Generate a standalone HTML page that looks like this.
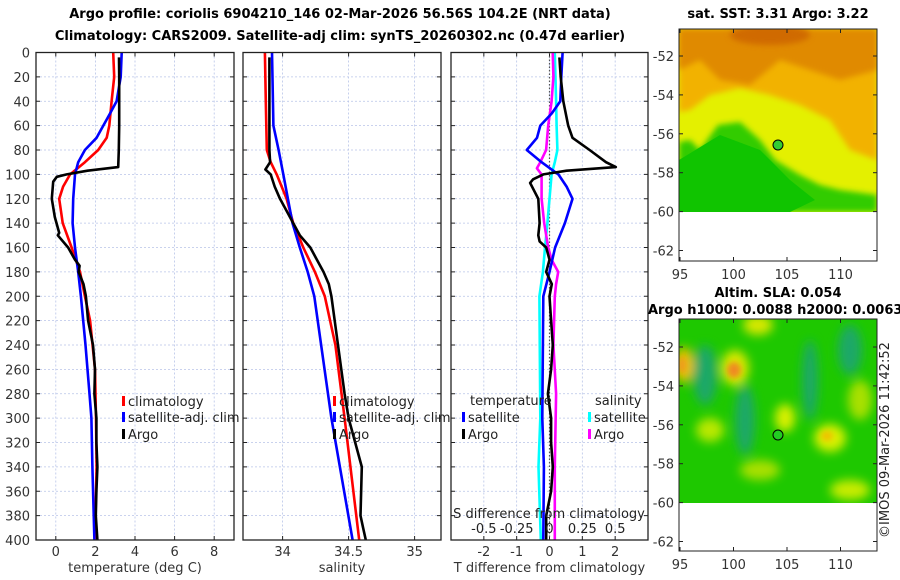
<!DOCTYPE html>
<html><head><meta charset="utf-8"><style>
html,body{margin:0;padding:0;background:#fff;}
svg{display:block;font-family:"DejaVu Sans","Liberation Sans",sans-serif;}
</style></head><body>
<svg id="fig" width="900" height="580" viewBox="0 0 900 580">
<defs>
<clipPath id="c1"><rect x="679" y="29" width="198" height="183"/></clipPath>
<clipPath id="c2"><rect x="679" y="319" width="198" height="184"/></clipPath>
<filter id="bl" x="-50%" y="-50%" width="200%" height="200%"><feGaussianBlur stdDeviation="5"/></filter>
<filter id="bl2" x="-50%" y="-50%" width="200%" height="200%"><feGaussianBlur stdDeviation="3"/></filter>
</defs>
<text x="340" y="18" text-anchor="middle" font-size="13" font-weight="bold">Argo profile: coriolis 6904210_146 02-Mar-2026 56.56S 104.2E (NRT data)</text>
<text x="340" y="40" text-anchor="middle" font-size="13" font-weight="bold">Climatology: CARS2009. Satellite-adj clim: synTS_20260302.nc (0.47d earlier)</text>
<g id="panels"></g>
<!-- map 1 -->
<g>
<text x="778" y="18" text-anchor="middle" font-size="13" font-weight="bold">sat. SST: 3.31 Argo: 3.22</text>
<g clip-path="url(#c1)">
<rect x="679" y="29" width="198" height="183" fill="#e4f000"/>
<path d="M679,29 H877 V160 L850,150 L830,120 L800,105 L770,95 L740,88 L710,95 L690,110 L679,112 Z" fill="#f2b200" filter="url(#bl2)"/>
<path d="M679,29 H877 V70 L840,80 L810,70 L780,60 L750,85 L720,80 L700,60 L679,70 Z" fill="#e08a00" filter="url(#bl2)"/>
<ellipse cx="770" cy="35" rx="40" ry="10" fill="#d06a00" filter="url(#bl2)"/>
<path d="M679,142 L690,140 L700,150 L718,125 L740,122 L760,140 L775,160 L800,175 L820,185 L840,190 L877,195 V212 H679 Z" fill="#33cc00" filter="url(#bl2)"/>
<path d="M679,160 L720,135 L760,150 L790,180 L815,200 L790,212 H679 Z" fill="#10c400"/>
</g>
<rect x="679" y="29" width="198" height="232" fill="none" stroke="#222" stroke-width="1"/>
<circle cx="778" cy="145" r="5" fill="#3c3" stroke="#000" stroke-width="1"/>
<g id="m1ticks"></g>
</g>
<!-- map 2 -->
<g>
<text x="778" y="297" text-anchor="middle" font-size="13" font-weight="bold">Altim. SLA: 0.054</text>
<text x="648" y="314" font-size="13" font-weight="bold">Argo h1000: 0.0088 h2000: 0.0063</text>
<g clip-path="url(#c2)">
<rect x="679" y="319" width="198" height="184" fill="#1ec800"/>
<g filter="url(#bl)">
<ellipse cx="705" cy="375" rx="12" ry="30" fill="#1aa868"/>
<ellipse cx="745" cy="420" rx="10" ry="35" fill="#1aa868"/>
<ellipse cx="810" cy="380" rx="8" ry="40" fill="#1aa868"/>
<ellipse cx="850" cy="350" rx="12" ry="25" fill="#1aa868"/>
<ellipse cx="735" cy="368" rx="14" ry="18" fill="#d8e800"/>
<ellipse cx="684" cy="365" rx="10" ry="18" fill="#e8c000"/>
<ellipse cx="758" cy="325" rx="15" ry="10" fill="#d8e800"/>
<ellipse cx="785" cy="418" rx="10" ry="14" fill="#d8f000"/>
<ellipse cx="830" cy="438" rx="16" ry="14" fill="#d8f000"/>
<ellipse cx="710" cy="430" rx="14" ry="12" fill="#b8e800"/>
<ellipse cx="760" cy="470" rx="20" ry="10" fill="#a8e000"/>
<ellipse cx="850" cy="490" rx="20" ry="10" fill="#c8ec00"/>
<ellipse cx="860" cy="400" rx="12" ry="20" fill="#a8e000"/>
</g>
<ellipse cx="734" cy="370" rx="7" ry="8" fill="#f08a20" filter="url(#bl2)"/>
<ellipse cx="682" cy="365" rx="4" ry="8" fill="#f09a20" filter="url(#bl2)"/>
<ellipse cx="827" cy="436" rx="6" ry="5" fill="#f0c000" filter="url(#bl2)"/>
</g>
<rect x="679" y="319" width="198" height="232" fill="none" stroke="#222" stroke-width="1"/>
<circle cx="778" cy="435" r="5" fill="#2c2" stroke="#000" stroke-width="1"/>
<g id="m2ticks"></g>
<text transform="translate(889,440) rotate(-90)" text-anchor="middle" font-size="13" fill="#222">©IMOS 09-Mar-2026 11:42:52</text>
</g>
</svg>
<script>
// ---- data ----
const tempArgoDepth=[4,20,40,60,80,94,97,100,102,106,120,135,148,150,160,170,175,180,190,200,220,240,260,280,300,320,340,360,380,400];
const tempArgo=[3.19,3.2,3.2,3.2,3.18,3.15,1.6,0.55,0.05,-0.13,-0.2,-0.05,0.17,0.1,0.62,0.97,1.2,1.15,1.4,1.52,1.63,1.88,1.98,1.95,2.05,2.05,2.1,2.05,2.02,2.1];
const tempClimDepth=[0,20,40,60,70,80,90,100,110,120,140,160,180,200,220,260,300,340,400];
const tempClim=[2.9,2.95,2.82,2.7,2.57,2.14,1.47,0.72,0.37,0.17,0.35,0.8,1.22,1.47,1.73,1.98,2.03,2.06,1.98];
const tempSatDepth=[0,20,40,50,60,70,80,90,100,120,140,160,180,200,240,280,300,340,400];
const tempSat=[3.33,3.28,3.07,2.74,2.4,2.06,1.47,1.13,0.97,0.88,0.85,0.97,1.13,1.27,1.5,1.7,1.8,1.85,1.95];
const salArgoDepth=[4,80,90,96,100,110,120,130,140,150,160,170,180,190,200,240,280,300,340,380,390,400];
const salArgo=[33.9,33.9,33.905,33.87,33.91,33.94,33.98,34.03,34.08,34.13,34.21,34.26,34.31,34.35,34.37,34.42,34.47,34.5,34.6,34.59,34.61,34.63];
const salClimDepth=[0,40,80,90,100,120,140,160,180,200,240,300,400];
const salClim=[33.866,33.873,33.88,33.91,33.955,34.03,34.08,34.157,34.245,34.32,34.4,34.47,34.58];
const salSatDepth=[0,60,70,80,100,120,140,160,180,200,300,400];
const salSat=[33.92,33.93,33.95,33.97,34.005,34.04,34.075,34.13,34.19,34.24,34.37,34.53];
const dTArgoDepth=[4,20,40,60,70,80,90,94,97,100,104,107,120,140,150,155,160,170,180,190,200,220,240,260,280,300,320,340,360,380,400];
const dTArgo=[0.3,0.34,0.42,0.57,0.7,1.22,1.72,2.02,0.52,-0.19,-0.5,-0.59,-0.34,-0.3,-0.34,-0.3,-0.1,0.0,-0.1,0.07,0.0,0.05,0.1,0.05,-0.05,0.05,0.05,0.1,0.05,-0.1,-0.1];
const dTSatDepth=[0,20,40,50,60,70,80,90,100,110,120,140,160,180,200,300,340,400];
const dTSat=[0.4,0.36,0.33,0.07,-0.28,-0.38,-0.69,-0.24,0.27,0.52,0.7,0.47,0.17,0.0,-0.19,-0.22,-0.17,-0.19];
const dSSatDepth=[0,40,60,80,90,100,120,140,160,180,200,300,340,400];
const dSSat=[0.04,0.05,0.054,0.06,0.04,0.016,0.0,-0.016,-0.034,-0.05,-0.077,-0.07,-0.084,-0.066];
const dSArgoDepth=[0,20,40,60,80,90,95,100,120,140,160,170,180,190,200,240,280,340,400];
const dSArgo=[0.024,0.03,0.016,-0.01,-0.026,-0.07,-0.096,-0.06,-0.06,-0.04,-0.01,0.016,0.066,0.05,0.04,0.03,0.05,0.04,0.04];
const depthTicks=[0,20,40,60,80,100,120,140,160,180,200,220,240,260,280,300,320,340,360,380,400];
const tTicks=[0,2,4,6,8];
const sTicks=[34,34.5,35];
const dTTicks=[-2,-1,0,1,2];
const dSTicks=[-0.5,-0.25,0,0.25,0.5];
const lonTicks=[95,100,105,110];
const latTicks=[-52,-54,-56,-58,-60,-62];

const NS='http://www.w3.org/2000/svg';
const Y0=52.5,Y1=540;
const yD=d=>Y0+(d/400)*(Y1-Y0);
function mk(tag,attrs,parent){const e=document.createElementNS(NS,tag);for(const k in attrs)e.setAttribute(k,attrs[k]);parent.appendChild(e);return e;}
const root=document.getElementById('panels');

const panels=[
 {x0:36,x1:234,min:-1,max:9,name:'temperature-panel',ticks:tTicks,label:'temperature (deg C)'},
 {x0:243,x1:441,min:33.7,max:35.2,name:'salinity-panel',ticks:sTicks,label:'salinity'},
 {x0:451,x1:648,min:-3,max:3,name:'difference-panel',ticks:dTTicks,label:'T difference from climatology'}
];
panels.forEach((p,pi)=>{
 const g=mk('g',{},root);
 
 
 p.sx=v=>p.x0+(v-p.min)/(p.max-p.min)*(p.x1-p.x0);
 depthTicks.forEach(d=>{
  const l=mk('line',{x1:p.x0,x2:p.x1,y1:yD(d),y2:yD(d),stroke:'#b8c4e8','stroke-width':0.8,'stroke-dasharray':'2,2'},g);
  
  
  mk('line',{x1:p.x0,x2:p.x0+4,y1:yD(d),y2:yD(d),stroke:'#222'},g);
  mk('line',{x1:p.x1-4,x2:p.x1,y1:yD(d),y2:yD(d),stroke:'#222'},g);
  if(pi===0){const t=mk('text',{x:30,y:yD(d)+5,'text-anchor':'end','font-size':13,fill:'#333'},g);t.textContent=d;
   
   }
 });
 p.ticks.forEach(v=>{
  const x=p.sx(v);
  const l=mk('line',{x1:x,x2:x,y1:Y0,y2:Y1,stroke:'#b8c4e8','stroke-width':0.8,'stroke-dasharray':'2,2'},g);
  
  
  mk('line',{x1:x,x2:x,y1:Y1-4,y2:Y1,stroke:'#222'},g);
  mk('line',{x1:x,x2:x,y1:Y0,y2:Y0+4,stroke:'#222'},g);
  const t=mk('text',{x:x,y:556,'text-anchor':'middle','font-size':13,fill:'#333'},g);t.textContent=v;
  
  
 });
 const lab=mk('text',{x:(p.x0+p.x1)/2,y:572,'text-anchor':'middle','font-size':13,fill:'#333'},g);lab.textContent=p.label;
 
 
 p.g=g;
});
function line(p,depths,vals,color,name,scale){
 const sx=scale||p.sx;
 const pts=depths.map((d,i)=>sx(vals[i]).toFixed(1)+','+yD(d).toFixed(1)).join(' ');
 const e=mk('polyline',{points:pts,fill:'none',stroke:color,'stroke-width':2.6,'stroke-linejoin':'round'},p.g);
 
 
}
const P1=panels[0],P2=panels[1],P3=panels[2];
const z=mk('line',{x1:P3.sx(0),x2:P3.sx(0),y1:Y0,y2:Y1,stroke:'#555','stroke-width':1.2,'stroke-dasharray':'1.5,2'},P3.g);


line(P1,tempClimDepth,tempClim,'#f00','temp-climatology-line');
line(P1,tempSatDepth,tempSat,'#00f','temp-satellite-line');
line(P1,tempArgoDepth,tempArgo,'#000','temp-argo-line');
line(P2,salClimDepth,salClim,'#f00','sal-climatology-line');
line(P2,salSatDepth,salSat,'#00f','sal-satellite-line');
line(P2,salArgoDepth,salArgo,'#000','sal-argo-line');
const sS=v=>P3.sx(v*4);
line(P3,dSSatDepth,dSSat,'#0ff','sal-diff-satellite-line',sS);
line(P3,dSArgoDepth,dSArgo,'#f0f','sal-diff-argo-line',sS);
line(P3,dTSatDepth,dTSat,'#00f','temp-diff-satellite-line');
line(P3,dTArgoDepth,dTArgo,'#000','temp-diff-argo-line');
dSTicks.forEach(v=>{const t=mk('text',{x:sS(v),y:533,'text-anchor':'middle','font-size':13,fill:'#222'},P3.g);t.textContent=v;
 
 });
{const t=mk('text',{x:549,y:518,'text-anchor':'middle','font-size':13,fill:'#222'},P3.g);t.textContent='S difference from climatology';
 
 }
function legend(g,x,y,color,text,name){
 mk('rect',{x:x,y:y-10,width:3,height:10,fill:color},g);
 const t=mk('text',{x:x+6,y:y,'font-size':13,fill:'#222'},g);t.textContent=text;
 
 
}
[[P1,122],[P2,333]].forEach(([p,x])=>{
 legend(p.g,x,406,'#f00','climatology','legend-climatology');
 legend(p.g,x,422,'#00f','satellite-adj. clim','legend-satellite-adj');
 legend(p.g,x,439,'#000','Argo','legend-argo');
});
{const t=mk('text',{x:470,y:405,'font-size':13,fill:'#222'},P3.g);t.textContent='temperature';
 
 
 const s=mk('text',{x:595,y:405,'font-size':13,fill:'#222'},P3.g);s.textContent='salinity';
 
 }
legend(P3.g,462,422,'#00f','satellite','legend-temp-satellite');
legend(P3.g,462,439,'#000','Argo','legend-temp-argo');
legend(P3.g,588,422,'#0ff','satellite','legend-sal-satellite');
legend(P3.g,588,439,'#f0f','Argo','legend-sal-argo');
panels.forEach(p=>{const b=mk('rect',{x:p.x0,y:Y0,width:p.x1-p.x0,height:Y1-Y0,fill:'none',stroke:'#222','stroke-width':1.3},p.g);
 
 });
function mapTicks(id,yTop,yBot,lat52y){
 const g=document.getElementById(id);
 const lx=v=>680+(v-95)*10.7;
 const ly=v=>lat52y+(-52-v)*19.45;
 lonTicks.forEach(v=>{mk('line',{x1:lx(v),x2:lx(v),y1:yBot-4,y2:yBot,stroke:'#222'},g);
  mk('line',{x1:lx(v),x2:lx(v),y1:yTop,y2:yTop+4,stroke:'#222'},g);
  const t=mk('text',{x:lx(v),y:yBot+18,'text-anchor':'middle','font-size':13,fill:'#333'},g);t.textContent=v;
  
  });
 latTicks.forEach(v=>{mk('line',{x1:679,x2:683,y1:ly(v),y2:ly(v),stroke:'#222'},g);
  mk('line',{x1:873,x2:877,y1:ly(v),y2:ly(v),stroke:'#222'},g);
  const t=mk('text',{x:674,y:ly(v)+5,'text-anchor':'end','font-size':13,fill:'#333'},g);t.textContent=v;
  
  });
}
mapTicks('m1ticks',29,261,56);
mapTicks('m2ticks',319,551,347);
</script>
</body></html>
